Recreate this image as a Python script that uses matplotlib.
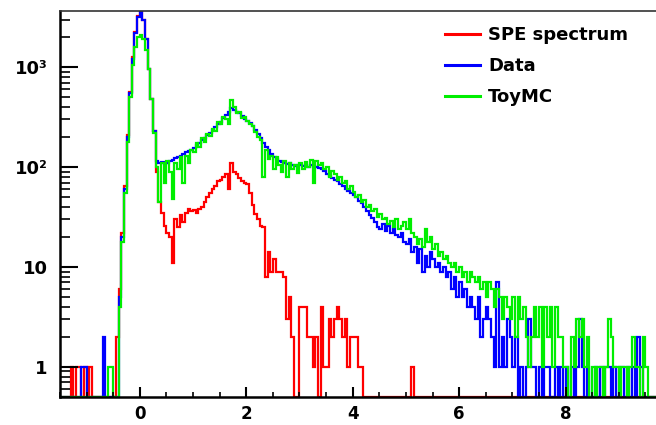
import numpy as np
import matplotlib
matplotlib.use("Agg")
import matplotlib.pyplot as plt
from matplotlib.ticker import MultipleLocator, LogLocator, NullFormatter

# histogram binning: 0.05 wide bins from -1.5 to 9.7
x_lo, x_hi, bin_w = -1.5, 9.7, 0.05

# counts per bin, one row per unit of x (first row covers -1.5 .. 0)
spe = [0, 0, 0, 0, 1, 0, 1, 1, 0, 1, 0, 1, 0, 0, 0, 0, 0, 0, 0, 0, 0, 2, 6, 22, 65, 210, 560, 1250, 2250, 3250,
       3650, 3000, 1900, 950, 480, 230, 90, 45, 35, 26, 22, 20, 11, 30, 25, 33, 28, 35, 38, 36,
       37, 35, 38, 40, 45, 50, 55, 60, 65, 72, 75, 80, 85, 60, 110, 90, 85, 78, 72, 70,
       68, 55, 42, 34, 30, 26, 25, 8, 14, 9, 12, 9, 9, 9, 8, 3, 5, 2, 0, 0,
       4, 4, 4, 2, 2, 1, 2, 0, 4, 1, 1, 3, 2, 3, 4, 3, 2, 3, 1, 2,
       2, 2, 1, 1, 0, 0, 0, 0, 0, 0, 0, 0, 0, 0, 0, 0, 0, 0, 0, 0,
       0, 0, 1, 0, 0, 0, 0, 0, 0, 0, 0, 0, 0, 0, 0, 0, 0, 0, 0, 0]
spe = spe + [0] * (224 - len(spe))

data = [0, 0, 0, 0, 0, 0, 0, 0, 1, 1, 0, 0, 0, 0, 0, 0, 2, 0, 0, 0, 0, 0, 5, 20, 60, 200, 550, 1200, 2200, 3200,
        3650, 3000, 1900, 950, 480, 230, 115, 110, 112, 108, 110, 115, 118, 122, 126, 130, 135, 140, 145, 150,
        155, 165, 175, 185, 195, 210, 220, 235, 250, 270, 285, 310, 335, 360, 390, 370, 360, 345, 325, 305,
        290, 275, 255, 235, 215, 195, 175, 160, 148, 135, 126, 120, 116, 112, 110, 107, 109, 105, 103, 106,
        105, 103, 106, 100, 104, 102, 100, 98, 96, 92, 86, 82, 78, 75, 72, 68, 64, 61, 58, 55,
        52, 50, 46, 44, 40, 36, 33, 31, 28, 25, 24, 27, 23, 26, 22, 24, 21, 20, 22, 18,
        17, 19, 14, 16, 11, 15, 9, 13, 10, 14, 12, 10, 11, 9, 10, 8, 9, 6, 8, 5,
        7, 5, 6, 4, 5, 4, 3, 5, 2, 3, 4, 3, 2, 1, 7, 1, 2, 1, 3, 2,
        1, 2, 0, 1, 0, 1, 3, 1, 1, 0, 1, 0, 1, 1, 0, 0, 1, 0, 1, 0,
        1, 0, 1, 0, 1, 3, 1, 0, 1, 0, 0, 1, 0, 1, 0, 1, 1, 0, 1, 0,
        1, 1, 0, 1, 0, 1, 0, 2, 1, 0, 0, 0, 0, 0]

toymc = [0, 0, 0, 0, 0, 0, 0, 0, 0, 0, 0, 0, 0, 0, 0, 0, 0, 0, 1, 1, 0, 0, 4, 18, 55, 180, 500, 1050, 1600, 2000,
         2080, 1900, 1500, 950, 480, 220, 100, 45, 110, 70, 115, 90, 48, 110, 95, 125, 70, 130, 110, 150,
         140, 175, 160, 195, 180, 215, 205, 240, 230, 280, 270, 320, 300, 270, 470, 400, 350, 360, 310, 320,
         290, 270, 260, 225, 200, 185, 80, 150, 120, 130, 95, 125, 105, 90, 115, 80, 110, 95, 105, 88,
         110, 95, 112, 100, 118, 70, 115, 105, 110, 95, 100, 80, 92, 85, 75, 80, 70, 72, 60, 64,
         56, 50, 52, 45, 47, 40, 42, 36, 38, 32, 34, 30, 31, 27, 29, 25, 30, 24, 26, 28,
         24, 30, 22, 20, 17, 19, 16, 24, 18, 20, 15, 17, 13, 14, 12, 13, 11, 10, 11, 9,
         10, 8, 9, 7, 9, 8, 7, 8, 6, 7, 5, 7, 6, 4, 6, 5, 3, 5, 4, 3,
         5, 2, 5, 3, 4, 2, 1, 2, 4, 2, 4, 1, 4, 2, 4, 1, 4, 2, 2, 1,
         1, 0, 2, 1, 3, 2, 3, 1, 2, 0, 1, 0, 1, 1, 0, 1, 3, 2, 1, 1,
         0, 1, 1, 0, 1, 2, 1, 1, 0, 2, 1, 0, 0, 0]

labels = ["SPE spectrum", "Data", "ToyMC"]
colors = ["#ff0000", "#0000ff", "#00ee00"]

y_lo, y_hi = 0.5, 3650

plt.rcParams["font.family"] = "DejaVu Sans"
plt.rcParams["font.weight"] = "bold"
plt.rcParams["font.size"] = 13

edges = np.linspace(x_lo, x_hi, len(data) + 1)

fig = plt.figure(figsize=(6.56, 4.25), dpi=100)
ax = fig.add_axes([60 / 656, 28 / 425, 1 - 60 / 656, (397 - 11) / 425])

# empty bins are drawn along the bottom of the frame, as ROOT does on log scale
for vals, col, lab in zip([spe, data, toymc], colors, labels):
    v = np.maximum(np.array(vals, dtype=float), y_lo)
    ax.stairs(v, edges, baseline=None, color=col, lw=1.6, label=lab)

ax.set_yscale("log")
ax.set_xlim(x_lo, x_hi)
ax.set_ylim(y_lo, y_hi)

ax.set_yticks([1, 10, 100, 1000])
ax.set_yticklabels(["1", "10", "10\u00b2", "10\u00b3"])
ax.yaxis.set_minor_locator(LogLocator(base=10, subs=np.arange(2, 10)))
ax.yaxis.set_minor_formatter(NullFormatter())
ax.xaxis.set_major_locator(MultipleLocator(2))
ax.xaxis.set_minor_locator(MultipleLocator(0.5))

ax.tick_params(axis="y", which="major", direction="in", length=13, width=1.5, pad=9)
ax.tick_params(axis="y", which="minor", direction="in", length=7, width=1.2)
ax.tick_params(axis="x", which="major", direction="in", length=7, width=1.5, pad=6,
               labelsize=12)
ax.tick_params(axis="x", which="minor", direction="in", length=3.5, width=1.2)

ax.spines["right"].set_visible(False)
ax.spines["left"].set_linewidth(1.8)
ax.spines["bottom"].set_linewidth(1.8)
ax.spines["top"].set_linewidth(1.2)
ax.spines["top"].set_color("#333333")

leg = fig.legend(loc="upper left", bbox_to_anchor=(445 / 656, 1 - 26 / 425),
                 frameon=False, borderpad=0, borderaxespad=0,
                 handlelength=1.95, handletextpad=0.45, labelspacing=0.72)
for line in leg.get_lines():
    line.set_linewidth(2.2)

fig.savefig("out.png", dpi=100)
